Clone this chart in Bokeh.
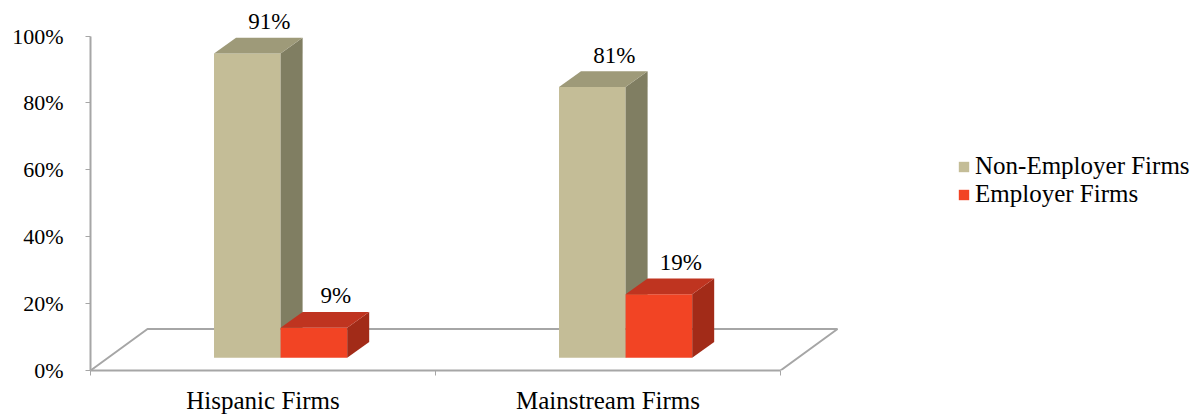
from bokeh.plotting import figure
from bokeh.models import FixedTicker, Legend, LegendItem, ColumnDataSource, Range1d
from bokeh.core.properties import value
from bokeh.embed import file_html
from bokeh.resources import INLINE

# ---- data ----
categories = ["Hispanic Firms", "Mainstream Firms"]
series_names = ["Non-Employer Firms", "Employer Firms"]
non_employer = [91, 81]
employer = [9, 19]
y_ticks = [0, 20, 40, 60, 80, 100]
y_tick_labels = ["0%", "20%", "40%", "60%", "80%", "100%"]

front_colors = ["#C4BD97", "#F24424"]
side_colors = ["#807E62", "#A22B18"]
top_colors = ["#9E9A79", "#BF3420"]

FONT = "Liberation Serif"

# ---- geometry (pixel scale) ----
PX_X = 345.0   # px per category
PX_Y = 3.38    # px per percent
LEFT = 90
FRAME_H = 374
W, H = 1197, 416

floor_dx, floor_dy = 57 / PX_X, 42 / PX_Y
bar_off_x, bar_off_y = 17.6 / PX_X, 12.8 / PX_Y
bar_dx, bar_dy = 22 / PX_X, 16 / PX_Y
bar_w = 0.193

p = figure(width=W, height=H, output_backend="svg", toolbar_location=None,
           x_range=Range1d(0, (W - LEFT) / PX_X), y_range=Range1d(0, FRAME_H / PX_Y),
           min_border_left=LEFT, min_border_right=0, min_border_top=0,
           min_border_bottom=H - FRAME_H)
p.outline_line_color = None
p.xgrid.visible = False
p.ygrid.visible = False
p.background_fill_color = "white"
p.border_fill_color = "white"

n = len(categories)
# ---- floor ----
p.line([0, floor_dx, n + floor_dx, n], [0, floor_dy, floor_dy, 0],
       line_color="#A6A6A6", line_width=2)

# ---- bars ----
renderers = []
all_vals = [non_employer, employer]
for j, vals in enumerate(all_vals):
    lefts = [i + 0.5 - bar_w + j * bar_w + bar_off_x for i in range(n)]
    rights = [l + bar_w for l in lefts]
    bottoms = [bar_off_y] * n
    tops = [v + bar_off_y for v in vals]
    src = ColumnDataSource(dict(left=lefts, right=rights, bottom=bottoms, top=tops))
    r = p.quad(left="left", right="right", bottom="bottom", top="top", source=src,
               fill_color=front_colors[j], line_color=None)
    renderers.append(r)
    side_xs = [[r_, r_ + bar_dx, r_ + bar_dx, r_] for r_ in rights]
    side_ys = [[b, b + bar_dy, t + bar_dy, t] for b, t in zip(bottoms, tops)]
    p.patches(side_xs, side_ys, fill_color=side_colors[j], line_color=None)
    top_xs = [[l, l + bar_dx, r_ + bar_dx, r_] for l, r_ in zip(lefts, rights)]
    top_ys = [[t, t + bar_dy, t + bar_dy, t] for t in tops]
    p.patches(top_xs, top_ys, fill_color=top_colors[j], line_color=None)
    lab = ColumnDataSource(dict(x=[(l + r_) / 2 + bar_dx for l, r_ in zip(lefts, rights)],
                                y=[t + bar_dy for t in tops],
                                t=[f"{v}%" for v in vals]))
    p.text(x="x", y="y", text="t", source=lab, text_font=value(FONT),
           text_font_size="23px", text_align="center", text_baseline="middle",
           y_offset=-16, text_color="black")

# ---- axes ----
xa = p.xaxis[0]
xa.ticker = FixedTicker(ticks=[i + 0.5 for i in range(n)], minor_ticks=list(range(n + 1)))
xa.major_label_overrides = {i + 0.5: c for i, c in enumerate(categories)}
xa.bounds = (0, n)
xa.axis_line_color = "#A6A6A6"
xa.axis_line_width = 2
xa.major_tick_line_color = None
xa.major_tick_in = 0
xa.major_tick_out = 0
xa.minor_tick_line_color = "#A6A6A6"
xa.minor_tick_in = 0
xa.minor_tick_out = 5
xa.minor_tick_line_width = 1
xa.major_label_text_font = FONT
xa.major_label_text_font_size = "25px"
xa.major_label_text_color = "black"
xa.major_label_standoff = 11

ya = p.yaxis[0]
ya.ticker = FixedTicker(ticks=y_ticks)
ya.major_label_overrides = {t: l for t, l in zip(y_ticks, y_tick_labels)}
ya.bounds = (0, 100)
ya.axis_line_color = "#A6A6A6"
ya.axis_line_width = 2
ya.major_tick_line_color = "#A6A6A6"
ya.major_tick_in = 0
ya.major_tick_out = 5
ya.minor_tick_line_color = None
ya.major_label_text_font = FONT
ya.major_label_text_font_size = "22px"
ya.major_label_text_color = "black"
ya.major_label_standoff = 22

# ---- legend ----
legend = Legend(items=[LegendItem(label=s, renderers=[r]) for s, r in zip(series_names, renderers)],
                location=(867, 162), padding=0, margin=0, spacing=0,
                glyph_width=13, glyph_height=13, label_height=28, label_standoff=5,
                label_text_font=FONT, label_text_font_size="25px", label_text_color="black",
                border_line_color=None, background_fill_alpha=0)
p.add_layout(legend)

open("out.html", "w").write(file_html(p, INLINE))
